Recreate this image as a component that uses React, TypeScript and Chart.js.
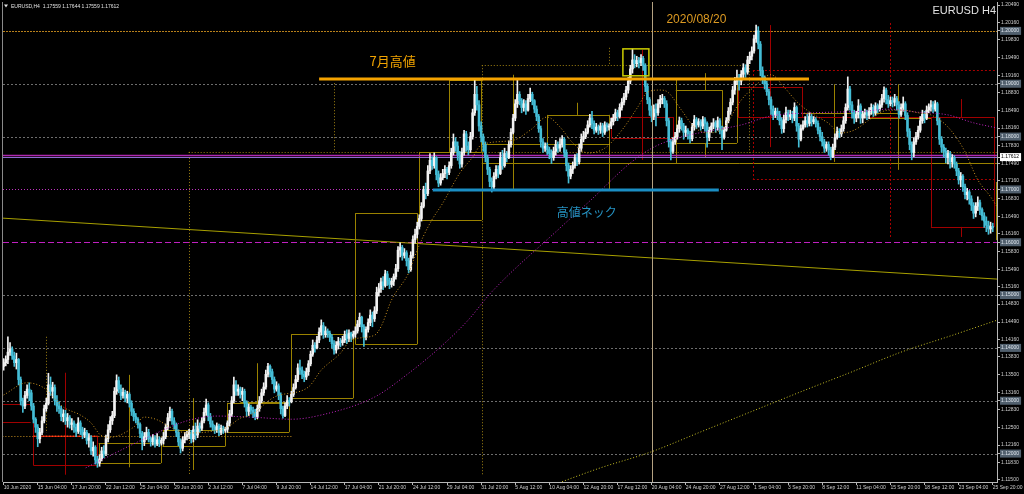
import React, { useEffect, useRef } from "react";
import { Chart, registerables } from "chart.js";
Chart.register(...registerables);

// Prices are stored in pips above 1.1000 (e.g. 372 -> 1.1372)
const BASE = 1.1;
const PIP = 0.0001;
const FIRST_OPEN = 365;

// H4 bars, 10 Jun 2020 12:00 .. 25 Sep 2020 20:00 (one row per day)
const closes: number[] = [
  372, 378, 392,
  398, 385, 372, 378, 340, 300,
  290, 310, 322, 315, 290, 265,
  250, 228, 240, 262, 285, 295,
  330, 318, 325, 300, 290, 285,
  270, 275, 262, 268, 255, 258,
  250, 242, 258, 245, 235, 240,
  225, 230, 205, 212, 188, 182,
  190, 205, 200, 228, 245, 262,
  272, 318, 338, 322, 310, 316,
  305, 312, 295, 280, 270, 265,
  255, 238, 222, 232, 240, 228,
  222, 230, 218, 226, 220, 225,
  232, 250, 268, 280, 262, 255,
  240, 222, 210, 226, 232, 236,
  240, 228, 245, 235, 252, 248,
  262, 278, 292, 270, 256, 250,
  245, 252, 240, 248, 244, 246,
  258, 275, 300, 330, 318, 322,
  312, 318, 296, 280, 288, 282,
  278, 270, 285, 300, 315, 326,
  350, 365, 355, 340, 322, 328,
  310, 285, 272, 290, 300, 298,
  312, 325, 340, 362, 358, 350,
  345, 355, 370, 388, 405, 400,
  415, 430, 442, 425, 432, 428,
  420, 408, 396, 405, 412, 410,
  415, 425, 418, 428, 422, 426,
  432, 445, 458, 440, 420, 435,
  448, 462, 455, 470, 505, 512,
  525, 518, 540, 528, 520, 526,
  535, 550, 585, 590, 575, 580,
  565, 548, 575, 605, 615, 630,
  645, 668, 700, 692, 735, 755,
  745, 760, 728, 712, 722, 730,
  738, 732, 745, 770, 790, 782,
  765, 748, 770, 805, 782, 775,
  800, 845, 880, 860, 820, 800,
  785, 760, 738, 715, 705, 725,
  738, 730, 760, 745, 768, 760,
  785, 808, 835, 862, 880, 868,
  855, 862, 850, 872, 880, 868,
  852, 838, 815, 790, 778, 782,
  775, 768, 760, 772, 785, 778,
  785, 795, 770, 745, 725, 738,
  745, 760, 752, 778, 795, 800,
  808, 822, 835, 825, 812, 818,
  812, 820, 808, 822, 818, 820,
  828, 835, 845, 838, 855, 865,
  875, 888, 905, 928, 945, 938,
  944, 940, 948, 935, 895, 870,
  850, 838, 852, 845, 862, 870,
  872, 862, 830, 790, 772, 790,
  800, 815, 830, 820, 808, 812,
  805, 796, 818, 832, 822, 828,
  820, 832, 825, 798, 812, 820,
  826, 818, 830, 812, 798, 812,
  830, 848, 865, 888, 905, 912,
  905, 918, 930, 922, 945, 952,
  962, 985, 1000, 975, 925, 912,
  900, 885, 870, 852, 840, 848,
  842, 830, 815, 832, 845, 838,
  842, 835, 855, 820, 795, 815,
  822, 830, 825, 838, 828, 832,
  825, 812, 800, 790, 778, 785,
  775, 762, 780, 798, 810, 805,
  815, 830, 855, 890, 860, 845,
  835, 842, 858, 835, 842, 845,
  840, 848, 855, 845, 858, 852,
  860, 872, 888, 870, 862, 868,
  865, 872, 860, 842, 855, 862,
  840, 810, 785, 770, 790, 800,
  812, 830, 842, 835, 850, 856,
  860, 852, 862, 830, 795, 780,
  772, 760, 768, 752, 760, 748,
  735, 718, 725, 705, 690, 695,
  682, 670, 655, 668, 675, 662,
  650, 640, 632, 625, 630, 628,
];

const highs: number[] = [
  380, 385, 421,
  410, 402, 392, 390, 380, 345,
  305, 318, 330, 334, 320, 295,
  268, 255, 248, 270, 292, 305,
  352, 345, 335, 330, 310, 298,
  290, 283, 282, 276, 272, 266,
  262, 256, 268, 262, 250, 248,
  244, 238, 234, 222, 215, 195,
  198, 212, 215, 235, 255, 270,
  280, 325, 349, 345, 330, 324,
  320, 318, 315, 300, 285, 276,
  268, 258, 242, 240, 250, 246,
  232, 236, 234, 238, 232, 230,
  240, 256, 276, 288, 284, 268,
  258, 245, 228, 232, 240, 242,
  246, 244, 252, 258, 264, 258,
  268, 286, 303, 296, 276, 262,
  254, 258, 256, 254, 252, 250,
  262, 282, 308, 345, 338, 330,
  326, 325, 322, 300, 294, 292,
  288, 284, 292, 308, 322, 334,
  358, 371, 368, 360, 345, 336,
  332, 315, 290, 296, 310, 306,
  318, 332, 348, 370, 377, 364,
  356, 362, 376, 394, 415, 410,
  422, 438, 453, 448, 440, 436,
  432, 425, 414, 412, 420, 418,
  422, 432, 434, 434, 430, 432,
  440, 452, 466, 460, 444, 440,
  455, 472, 468, 478, 515, 522,
  532, 535, 547, 545, 532, 532,
  540, 558, 592, 599, 594, 588,
  584, 570, 582, 612, 625, 638,
  652, 675, 706, 712, 745, 768,
  762, 769, 762, 735, 730, 738,
  745, 742, 752, 778, 805, 798,
  790, 772, 778, 812, 810, 790,
  808, 852, 907, 895, 868, 828,
  805, 790, 765, 742, 722, 732,
  745, 745, 770, 774, 778, 772,
  792, 815, 842, 870, 910, 885,
  872, 870, 868, 880, 892, 884,
  870, 858, 842, 820, 796, 788,
  788, 780, 775, 780, 793, 790,
  796, 802, 798, 775, 750, 745,
  752, 766, 768, 786, 805, 810,
  815, 830, 842, 848, 830, 825,
  822, 826, 825, 828, 826, 824,
  835, 842, 852, 850, 862, 872,
  882, 895, 912, 935, 966, 955,
  952, 950, 955, 952, 938, 900,
  874, 858, 860, 862, 870, 878,
  880, 876, 868, 835, 795, 798,
  808, 822, 837, 835, 825, 820,
  815, 810, 825, 840, 836, 834,
  832, 838, 836, 828, 818, 826,
  834, 830, 837, 834, 820, 818,
  836, 855, 872, 895, 912, 926,
  918, 925, 938, 936, 952, 960,
  970, 992, 1011, 1008, 980, 932,
  915, 905, 890, 875, 858, 854,
  854, 848, 836, 840, 856, 850,
  850, 848, 864, 858, 825, 822,
  830, 838, 842, 845, 842, 838,
  836, 830, 818, 808, 795, 790,
  790, 780, 786, 805, 818, 815,
  822, 838, 862, 913, 895, 866,
  850, 848, 870, 862, 848, 852,
  850, 855, 862, 860, 864, 862,
  868, 880, 894, 892, 878, 875,
  875, 880, 876, 866, 862, 875,
  866, 845, 815, 790, 798, 808,
  820, 838, 850, 848, 858, 862,
  868, 866, 868, 865, 835, 800,
  785, 778, 774, 772, 766, 764,
  752, 740, 732, 728, 710, 702,
  698, 688, 675, 675, 686, 680,
  665, 656, 648, 640, 638, 636,
];

const lows: number[] = [
  358, 366, 370,
  386, 378, 365, 360, 330, 292,
  278, 285, 305, 300, 282, 258,
  240, 213, 220, 236, 258, 280,
  292, 310, 305, 292, 280, 276,
  262, 260, 255, 250, 248, 245,
  240, 232, 238, 236, 228, 230,
  218, 212, 198, 195, 180, 174,
  176, 186, 192, 196, 222, 240,
  255, 268, 312, 315, 302, 305,
  298, 296, 288, 272, 262, 258,
  248, 230, 207, 215, 226, 222,
  214, 216, 212, 215, 213, 216,
  218, 228, 245, 262, 255, 246,
  232, 215, 201, 205, 220, 226,
  228, 220, 222, 226, 230, 240,
  244, 258, 272, 262, 250, 244,
  238, 240, 234, 236, 238, 240,
  240, 252, 270, 296, 310, 310,
  305, 300, 288, 270, 272, 275,
  268, 264, 266, 280, 296, 310,
  322, 345, 345, 332, 315, 318,
  302, 275, 267, 270, 285, 290,
  296, 308, 322, 336, 350, 342,
  336, 340, 348, 366, 384, 392,
  398, 410, 424, 418, 420, 420,
  412, 400, 388, 390, 398, 402,
  405, 410, 408, 412, 412, 418,
  420, 428, 440, 430, 403, 415,
  430, 442, 440, 450, 465, 498,
  505, 510, 515, 518, 512, 515,
  518, 530, 545, 572, 566, 570,
  555, 542, 545, 570, 598, 608,
  625, 640, 665, 682, 688, 730,
  738, 740, 718, 705, 708, 718,
  722, 720, 728, 740, 765, 772,
  755, 740, 742, 765, 772, 765,
  770, 795, 840, 850, 810, 790,
  772, 752, 728, 705, 695, 700,
  720, 722, 728, 738, 742, 752,
  758, 780, 805, 830, 855, 860,
  845, 848, 842, 848, 866, 860,
  845, 830, 808, 780, 770, 772,
  766, 758, 749, 755, 765, 770,
  772, 780, 762, 735, 712, 720,
  730, 740, 745, 748, 772, 790,
  796, 805, 818, 815, 805, 808,
  804, 806, 800, 804, 810, 812,
  815, 822, 830, 830, 835, 850,
  860, 870, 882, 900, 920, 930,
  932, 930, 934, 925, 885, 862,
  840, 828, 832, 820, 840, 855,
  862, 855, 820, 780, 756, 768,
  785, 795, 808, 812, 795, 800,
  795, 788, 792, 812, 815, 818,
  812, 815, 810, 780, 792, 808,
  815, 808, 812, 805, 775, 795,
  810, 826, 842, 860, 880, 898,
  888, 898, 910, 912, 918, 938,
  945, 958, 978, 966, 915, 900,
  890, 878, 860, 842, 832, 836,
  832, 822, 806, 808, 826, 830,
  832, 826, 830, 810, 780, 792,
  812, 818, 818, 820, 820, 824,
  818, 805, 792, 782, 770, 772,
  765, 756, 760, 775, 795, 798,
  800, 810, 825, 850, 850, 835,
  825, 828, 835, 825, 826, 835,
  832, 834, 842, 838, 840, 845,
  848, 855, 865, 862, 855, 858,
  856, 858, 850, 835, 838, 848,
  832, 800, 775, 756, 762, 785,
  795, 808, 825, 826, 832, 845,
  848, 845, 848, 822, 785, 770,
  762, 750, 748, 740, 742, 740,
  726, 710, 705, 696, 682, 680,
  672, 660, 645, 648, 660, 652,
  642, 628, 620, 615, 617, 620,
];

const timeLabels = [
  "10 Jun 2020", "15 Jun 04:00", "17 Jun 20:00", "22 Jun 12:00", "25 Jun 04:00",
  "29 Jun 20:00", "2 Jul 12:00", "7 Jul 04:00", "9 Jul 20:00", "14 Jul 12:00",
  "17 Jul 04:00", "21 Jul 20:00", "24 Jul 12:00", "29 Jul 04:00", "31 Jul 20:00",
  "5 Aug 12:00", "10 Aug 04:00", "12 Aug 20:00", "17 Aug 12:00", "20 Aug 04:00",
  "24 Aug 20:00", "27 Aug 12:00", "1 Sep 04:00", "3 Sep 20:00", "8 Sep 12:00",
  "11 Sep 04:00", "15 Sep 20:00", "18 Sep 12:00", "23 Sep 04:00", "25 Sep 20:00",
];
const timeLabelBars = [
  0, 16, 32, 48, 64, 80, 96, 112, 128, 144, 160, 176, 192, 208, 224,
  240, 256, 272, 288, 304, 320, 336, 352, 368, 384, 400, 416, 432, 448, 464,
];

const priceTicks = [
  1.2049, 1.2016, 1.1983, 1.1949, 1.1916, 1.1883, 1.1849, 1.1816, 1.1783, 1.1749,
  1.1716, 1.1683, 1.1649, 1.1616, 1.1583, 1.1549, 1.1516, 1.1483, 1.1449, 1.1416,
  1.1383, 1.135, 1.1316, 1.1283, 1.125, 1.1216, 1.1183, 1.115,
];
const markedLevels = [1.2, 1.19, 1.18, 1.17, 1.16, 1.15, 1.14, 1.13, 1.12];
const bidPrice = 1.17612;
const headerText = "EURUSD,H4  1.17559 1.17644 1.17559 1.17612";

// Moving averages (bar index, pips)
const maFastBars = [0, 11, 19, 28, 36, 41, 45.5, 50, 61, 66, 72, 78, 86, 96, 105, 111, 116, 127, 143, 149, 158, 163, 174, 177, 182, 190, 194, 200, 206, 214, 220, 224, 239, 247, 255, 261, 267, 274, 282, 290, 297.5, 302, 308, 311.6, 318, 324, 330, 336.5, 346, 352, 360, 366, 372.6, 378.7, 386.7, 392.8, 398.9, 408, 414.8, 422, 429, 435, 443, 450.5, 457, 463, 467];
const maFastPips = [311, 334, 324, 288, 273, 258, 235, 231, 250, 269, 264, 250, 239, 241, 250, 267, 273, 307, 326, 358, 390, 415, 424, 440, 491, 542, 585, 636, 674, 731, 761, 784, 793, 812, 837, 818, 788, 769, 778, 812, 856, 884, 888, 884, 850, 818, 807, 812, 869, 894, 917, 894, 864, 845, 826, 807, 812, 837, 850, 850, 845, 841, 818, 775, 718, 686, 661];
const maMidBars = [38.5, 67.6, 86, 100, 116, 135, 149, 174, 190, 205, 218, 228.5, 261, 275.5, 294, 305, 317.7, 333, 346, 360, 380, 403.6, 415, 429, 443, 455, 466.4];
const maMidPips = [173, 231, 262, 271, 269, 265, 273, 307, 352, 402, 453, 504, 627, 680, 750, 780, 799, 812, 822, 839, 845, 848, 852, 846, 841, 826, 816];
const maSlowBars = [256.7, 261.4, 280, 303.6, 327, 350.5, 374, 397.5, 421, 444.4, 466.4];
const maSlowPips = [139, 146, 173, 203, 241, 279, 317, 354, 392, 423, 453];

// Drawn objects, in (bar index, pips)
const greyLevels = [900, 800, 500, 400, 300, 200];
const oliveBoxes = [
  [44.6, 220, 73.7, 182], [74.6, 245, 104, 214], [105, 296, 134, 241],
  [135, 426, 164, 305], [165, 655, 194, 407], [195, 771, 224.3, 642],
  [209, 907, 224, 771], [255, 841, 284, 786], [315.3, 888, 337, 788],
];
const oliveLines = [
  [59, 349, 59, 174], [89, 305, 89, 169], [119, 371, 119, 264], [111, 298, 134, 298],
  [224.3, 750, 466.4, 750], [224.3, 786, 284, 786], [239, 917, 239, 699],
  [269, 864, 269, 841], [284, 841, 284, 699], [315.3, 907, 315.3, 750],
  [329, 920, 329, 888], [329, 788, 329, 761], [344, 907, 344, 788], [337, 788, 344, 788],
  [375, 845, 419.5, 845], [389.5, 899, 389.5, 752], [419.5, 899, 419.5, 737],
  [406, 835, 435, 835], [465.5, 714, 465.5, 604], [465.5, 714, 467, 714],
];
const oliveDotted = [
  [86.8, 771, 466.4, 771], [86.8, 771, 86.8, 160], [19.7, 421, 19.7, 239],
  [155, 901, 155, 771], [224.3, 935, 224.3, 160], [224.3, 935, 349.6, 935],
  [349.6, 935, 349.6, 769], [284, 968, 284, 935],
];
const orangeDotted = [[-2, 233, 135, 233]];
const redBoxes = [
  [14, 233, 44, 178], [285, 837, 314, 797], [344.4, 894, 374.5, 837], [435, 837, 464.6, 629],
];
const redLines = [
  [-2, 294, 14, 294], [-2, 260, 12.7, 260], [14, 294, 14, 178], [28.6, 353, 28.6, 160],
  [299.4, 964, 299.4, 756], [374.5, 837, 435, 837], [359.5, 1011, 359.5, 780],
  [449, 871, 449, 837], [449, 629, 449, 610],
];
const redTopEdge = [[14, 233, 44, 233]];
const redDotted = [
  [351.5, 926, 467, 926], [351.5, 720, 467, 720], [351.5, 926, 351.5, 720], [416, 1015, 416, 610],
];
const yellowBox = [290.5, 966, 302.7, 915];
const trendLine = [-2, 646, 467, 530];
const eventBar = 304;
const julyHigh = [148, 909, 377.8];
const neckLine = [201.3, 699, 335.5];
const notes = [
  { text: "2020/08/20", bar: 325, pips: 1022, color: "#dc9a22", font: "12px 'Liberation Sans', Arial, sans-serif" },
  { text: "7月高値", bar: 182.5, pips: 943, color: "#f2a400", font: "13px 'Noto Sans CJK JP', sans-serif" },
  { text: "高値ネック", bar: 273.6, pips: 657, color: "#2592c2", font: "12px 'Noto Sans CJK JP', sans-serif" },
];

const P = (p: number) => BASE + p * PIP;

export default function App() {
  const ref = useRef<HTMLCanvasElement | null>(null);

  useEffect(() => {
    document.body.style.margin = "0";
    document.body.style.background = "#000";
    const canvas = ref.current;
    if (!canvas) return;

    const n = Math.min(closes.length, highs.length, lows.length);
    const wickData: any[] = [];
    const bodyData: any[] = [];
    const colors: string[] = [];
    for (let i = 0; i < n; i++) {
      const o = i === 0 ? FIRST_OPEN : closes[i - 1];
      const c = closes[i];
      const hi = Math.max(highs[i], o, c);
      const lo = Math.min(lows[i], o, c);
      let b0 = Math.min(o, c);
      let b1 = Math.max(o, c);
      if (b1 - b0 < 1) { b0 -= 0.6; b1 += 0.6; }
      wickData.push({ x: i, y: [P(lo), P(hi)] });
      bodyData.push({ x: i, y: [P(b0), P(b1)] });
      colors.push(c >= o ? "#f2f2f2" : "#44bdd6");
    }
    const line = (bars: number[], pips: number[]) => bars.map((b, i) => ({ x: b, y: P(pips[i]) }));

    const plugin = {
      id: "mt4",
      beforeDraw(chart: any) {
        const { ctx, width, height } = chart;
        ctx.save();
        ctx.fillStyle = "#000";
        ctx.fillRect(0, 0, width, height);
        ctx.restore();
      },
      beforeDatasetsDraw(chart: any) {
        const { ctx, chartArea: a, scales } = chart;
        const X = (v: number) => scales.x.getPixelForValue(v);
        const Y = (p: number) => scales.y.getPixelForValue(P(p));
        const snap = (v: number) => Math.round(v) + 0.5;
        ctx.save();
        ctx.beginPath();
        ctx.rect(a.left, a.top, a.right - a.left, a.bottom - a.top);
        ctx.clip();
        const seg = (s: number[], color: string, w: number, dash: number[]) => {
          let x1 = X(s[0]), y1 = Y(s[1]), x2 = X(s[2]), y2 = Y(s[3]);
          if (w === 1) {
            if (Math.abs(y1 - y2) < 0.01) { y1 = y2 = snap(y1); }
            if (Math.abs(x1 - x2) < 0.01) { x1 = x2 = snap(x1); }
          }
          ctx.strokeStyle = color;
          ctx.lineWidth = w;
          ctx.setLineDash(dash);
          ctx.beginPath();
          ctx.moveTo(x1, y1);
          ctx.lineTo(x2, y2);
          ctx.stroke();
        };
        const box = (b: number[], color: string, w: number) => {
          seg([b[0], b[1], b[2], b[1]], color, w, []);
          seg([b[0], b[3], b[2], b[3]], color, w, []);
          seg([b[0], b[1], b[0], b[3]], color, w, []);
          seg([b[2], b[1], b[2], b[3]], color, w, []);
        };
        const L = scales.x.min, R = scales.x.max;
        // horizontal levels
        greyLevels.forEach((p) => seg([L, p, R, p], "#6e6e6e", 1, [2, 2]));
        seg([L, 1000, R, 1000], "#b8801a", 1, [2, 1]);
        seg([L, 700, R, 700], "#c030c0", 1, [1, 2]);
        seg([L, 600, R, 600], "#c020c0", 1, [6, 3]);
        // trend line
        seg(trendLine, "#a8a000", 1, []);
        // boxes and lines
        oliveDotted.forEach((s) => seg(s, "#a08212", 1, [1, 2]));
        orangeDotted.forEach((s) => seg(s, "#c89020", 1, [1, 2]));
        oliveBoxes.forEach((b) => box(b, "#9a8200", 1));
        oliveLines.forEach((s) => seg(s, "#9a8200", 1, []));
        redDotted.forEach((s) => seg(s, "#a80000", 1, [2, 2]));
        redBoxes.forEach((b) => box(b, "#a00000", 1));
        redLines.forEach((s) => seg(s, "#a00000", 1, []));
        redTopEdge.forEach((s) => seg(s, "#ff4a18", 1.5, [2, 1]));
        // magenta & bid lines
        seg([L, 764, R, 764], "#b028b0", 1.5, []);
        seg([L, (bidPrice - BASE) / PIP, R, (bidPrice - BASE) / PIP], "#8c6cd0", 1, []);
        ctx.restore();
      },
      afterDatasetsDraw(chart: any) {
        const { ctx, chartArea: a, scales } = chart;
        const X = (v: number) => scales.x.getPixelForValue(v);
        const Y = (p: number) => scales.y.getPixelForValue(P(p));
        ctx.save();
        ctx.beginPath();
        ctx.rect(a.left, a.top, a.right - a.left, a.bottom - a.top);
        ctx.clip();
        // event vertical line
        const ex = Math.round(X(eventBar)) + 0.5;
        ctx.strokeStyle = "#b4a282";
        ctx.lineWidth = 1;
        ctx.setLineDash([]);
        ctx.beginPath();
        ctx.moveTo(ex, a.top);
        ctx.lineTo(ex, a.bottom);
        ctx.stroke();
        // yellow box
        ctx.strokeStyle = "#cccc00";
        ctx.lineWidth = 1.5;
        ctx.strokeRect(X(yellowBox[0]), Y(yellowBox[1]), X(yellowBox[2]) - X(yellowBox[0]), Y(yellowBox[3]) - Y(yellowBox[1]));
        // thick lines
        ctx.lineWidth = 3;
        ctx.strokeStyle = "#f5a300";
        ctx.beginPath();
        ctx.moveTo(X(julyHigh[0]), Y(julyHigh[1]));
        ctx.lineTo(X(julyHigh[2]), Y(julyHigh[1]));
        ctx.stroke();
        ctx.strokeStyle = "#1a8ec4";
        ctx.beginPath();
        ctx.moveTo(X(neckLine[0]), Y(neckLine[1]));
        ctx.lineTo(X(neckLine[2]), Y(neckLine[1]));
        ctx.stroke();
        // notes
        ctx.textAlign = "center";
        ctx.textBaseline = "middle";
        notes.forEach((t) => {
          ctx.font = t.font;
          ctx.fillStyle = t.color;
          ctx.fillText(t.text, X(t.bar), Y(t.pips));
        });
        // symbol
        ctx.font = "11px 'Liberation Sans', Arial, sans-serif";
        ctx.fillStyle = "#e2e2e2";
        ctx.textAlign = "right";
        ctx.fillText("EURUSD H4", a.right - 1, a.top + 9);
        ctx.restore();

        // header
        ctx.save();
        ctx.fillStyle = "#e0e0e0";
        ctx.beginPath();
        ctx.moveTo(4, 4.5);
        ctx.lineTo(8, 4.5);
        ctx.lineTo(6, 7.5);
        ctx.closePath();
        ctx.fill();
        ctx.font = "5px 'Liberation Sans', Arial, sans-serif";
        ctx.textAlign = "left";
        ctx.textBaseline = "middle";
        ctx.fillText(headerText, 11, 6.5);
        // left frame
        ctx.strokeStyle = "#8a8a8a";
        ctx.lineWidth = 1;
        ctx.beginPath();
        ctx.moveTo(a.left - 0.5, a.top);
        ctx.lineTo(a.left - 0.5, a.bottom);
        ctx.stroke();
        ctx.restore();
      },
    };

    const tickFont = { family: "'Liberation Sans', Arial, sans-serif", size: 5 };
    const isMarked = (v: number) => markedLevels.some((m) => Math.abs(m - v) < 1e-9);

    const chart = new Chart(canvas, {
      type: "bar",
      data: {
        datasets: [
          { type: "line", data: line(maFastBars, maFastPips), borderColor: "#c8901f", borderWidth: 1, borderDash: [1, 2], pointRadius: 0, cubicInterpolationMode: "monotone" } as any,
          { type: "line", data: line(maMidBars, maMidPips), borderColor: "#c424c4", borderWidth: 1, borderDash: [1, 2], pointRadius: 0, cubicInterpolationMode: "monotone" } as any,
          { type: "line", data: line(maSlowBars, maSlowPips), borderColor: "#c8c024", borderWidth: 1, borderDash: [1, 2], pointRadius: 0, cubicInterpolationMode: "monotone" } as any,
          { type: "bar", data: bodyData, backgroundColor: colors, barThickness: 1.9, grouped: false, borderWidth: 0 } as any,
          { type: "bar", data: wickData, backgroundColor: colors, barThickness: 1, grouped: false, borderWidth: 0 } as any,
        ],
      },
      options: {
        responsive: false,
        animation: false,
        devicePixelRatio: 1,
        layout: { padding: { left: 3, top: 2, right: 0, bottom: 0 } },
        plugins: { legend: { display: false }, tooltip: { enabled: false } },
        events: [],
        scales: {
          x: {
            type: "linear",
            offset: false,
            min: -0.3,
            max: 466,
            grid: { display: true, drawOnChartArea: false, drawTicks: true, tickLength: 3, color: "#b8b8b8", offset: false },
            border: { display: true, color: "#b8b8b8" },
            ticks: {
              autoSkip: false,
              maxRotation: 0,
              minRotation: 0,
              align: "start",
              padding: 0,
              color: "#cfcfcf",
              font: tickFont,
              callback: (v: any) => {
                const k = timeLabelBars.indexOf(Number(v));
                return k >= 0 ? timeLabels[k] : "";
              },
            },
            afterBuildTicks: (s: any) => { s.ticks = timeLabelBars.map((v) => ({ value: v })); },
            afterFit: (s: any) => { s.height = 12; s.paddingLeft = 0; s.paddingRight = 0; },
          } as any,
          y: {
            type: "linear",
            position: "right",
            min: 1.11462,
            max: 1.20547,
            grid: { display: true, drawOnChartArea: false, drawTicks: true, tickLength: 3, color: "#b8b8b8" },
            border: { display: true, color: "#b8b8b8" },
            ticks: {
              autoSkip: false,
              crossAlign: "near",
              padding: 1,
              font: tickFont,
              color: (c: any) => (c.tick && c.tick.value === bidPrice ? "#000000" : isMarked(c.tick ? c.tick.value : 0) ? "#dfe6ee" : "#cfcfcf"),
              showLabelBackdrop: (c: any) => !!c.tick && (c.tick.value === bidPrice || isMarked(c.tick.value)),
              backdropColor: (c: any) => (c.tick && c.tick.value === bidPrice ? "#ffffff" : "#51606e"),
              backdropPadding: { left: 1, right: 2, top: 1, bottom: 1 },
              callback: (v: any) => Number(v).toFixed(5),
            },
            afterBuildTicks: (s: any) => {
              const vals = [...priceTicks, ...markedLevels, bidPrice].sort((a, b) => b - a);
              s.ticks = vals.map((v) => ({ value: v }));
            },
            afterFit: (s: any) => { s.width = 27; s.paddingTop = 0; s.paddingBottom = 0; },
          } as any,
        },
      } as any,
      plugins: [plugin],
    });
    return () => chart.destroy();
  }, []);

  return (
    <div style={{ width: 1024, height: 494, background: "#000" }}>
      <canvas ref={ref} width={1024} height={494} style={{ display: "block", width: 1024, height: 494 }} />
    </div>
  );
}
